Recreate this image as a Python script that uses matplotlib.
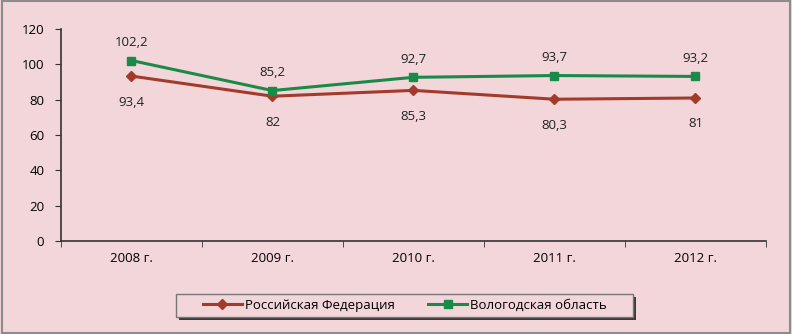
import matplotlib
matplotlib.use("Agg")
import matplotlib.pyplot as plt
from matplotlib.patches import Rectangle

years = ["2008 г.", "2009 г.", "2010 г.", "2011 г.", "2012 г."]
rf_values = [93.4, 82, 85.3, 80.3, 81]
vo_values = [102.2, 85.2, 92.7, 93.7, 93.2]
rf_labels = ["93,4", "82", "85,3", "80,3", "81"]
vo_labels = ["102,2", "85,2", "92,7", "93,7", "93,2"]

bg = "#f2d6d9"
red = "#a33b2c"
green = "#1a8a48"

plt.rcParams["font.family"] = ["Open Sans", "DejaVu Sans"]

fig = plt.figure(figsize=(7.92, 3.34), dpi=100, facecolor=bg)
fig.patches.append(Rectangle((0.002, 0.003), 0.996, 0.994, transform=fig.transFigure,
                             fill=False, edgecolor="#8c8c8c", lw=1.5))
ax = fig.add_axes([0.077, 0.278, 0.890, 0.635])
ax.set_facecolor(bg)

x = list(range(len(years)))
ax.plot(x, rf_values, color=red, lw=2.2, marker="D", ms=5.5, label="Российская Федерация")
ax.plot(x, vo_values, color=green, lw=2.2, marker="s", ms=5.5, label="Вологодская область")

for xi, v, t in zip(x, rf_values, rf_labels):
    ax.annotate(t, (xi, v), xytext=(0, -14), textcoords="offset points",
                ha="center", va="top", fontsize=9.5, color="#222222")
for xi, v, t in zip(x, vo_values, vo_labels):
    ax.annotate(t, (xi, v), xytext=(0, 8), textcoords="offset points",
                ha="center", va="bottom", fontsize=9.5, color="#222222")

ax.set_xlim(-0.5, len(years) - 0.5)
ax.set_ylim(0, 120)
ax.set_yticks(range(0, 121, 20))
ax.set_xticks(x)
ax.set_xticklabels(years, fontsize=9.5)
ax.set_xticks([i + 0.5 for i in range(-1, len(years))], minor=True)
ax.tick_params(axis="x", which="major", length=0, pad=8)
ax.tick_params(axis="x", which="minor", length=4, direction="out", color="#333333")
ax.tick_params(axis="y", length=4, direction="out", labelsize=9.5, pad=8, color="#333333")
for s in ["top", "right"]:
    ax.spines[s].set_visible(False)
for s in ["left", "bottom"]:
    ax.spines[s].set_color("#333333")
    ax.spines[s].set_linewidth(1.2)

# legend box with shadow, drawn by hand to get the wide frame
lx0, lx1 = 176 / 792, 633 / 792
ly0, ly1 = 1 - 317 / 334, 1 - 294 / 334
fig.patches.append(Rectangle((lx0 + 3 / 792, ly0 - 3 / 334), lx1 - lx0, ly1 - ly0,
                             transform=fig.transFigure, facecolor="#3a3a3a",
                             edgecolor="none", zorder=1))
fig.patches.append(Rectangle((lx0, ly0), lx1 - lx0, ly1 - ly0,
                             transform=fig.transFigure, facecolor=bg,
                             edgecolor="#777777", lw=1, zorder=2))
leg = fig.legend(loc="center", bbox_to_anchor=(0.511, 0.085), ncol=2, fontsize=9.5,
                 frameon=False, handlelength=3, columnspacing=2.5,
                 borderpad=0.3, handletextpad=0.2)
leg.set_zorder(3)

fig.savefig("out.png", dpi=100, facecolor=bg)
